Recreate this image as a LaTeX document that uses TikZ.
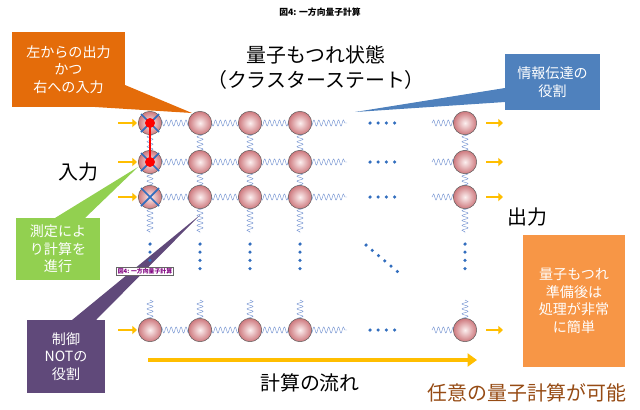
\documentclass[tikz,border=0pt]{standalone}
\usepackage{fontspec}
\setmainfont{Noto Sans CJK JP}
\usetikzlibrary{decorations.pathmorphing,arrows.meta,calc}
\definecolor{springblue}{RGB}{120,150,210}
\definecolor{dotblue}{RGB}{50,110,190}
\definecolor{arrowor}{RGB}{255,190,0}
\definecolor{callor}{RGB}{228,108,10}
\definecolor{callblue}{RGB}{79,129,189}
\definecolor{callgreen}{RGB}{146,208,80}
\definecolor{callpurple}{RGB}{96,73,122}
\definecolor{boxor}{RGB}{247,150,70}
\definecolor{brownt}{RGB}{150,75,20}
\definecolor{ballin}{RGB}{252,240,240}
\definecolor{ballout}{RGB}{205,120,125}
\tikzset{
  ball/.style={circle,minimum size=20,inner sep=0,draw=black!65,inner color=ballin,outer color=ballout},
  spring/.style={springblue,thin,decorate,decoration={snake,segment length=4.2,amplitude=2.6}},
  inarrow/.style={arrowor,line width=2.5pt,-{Triangle[length=4pt,width=7pt]}},
  dots/.style={dotblue,line width=3pt,line cap=round,dash pattern=on 0pt off 7pt},
  calltext/.style={white,align=center,font=\fontsize{12}{15}\selectfont},
  big/.style={font=\fontsize{17}{21}\selectfont}
}
\begin{document}
\begin{tikzpicture}[x=0.03cm,y=-0.03cm]
\useasboundingbox (0,0) rectangle (640,409);
\node[font=\bfseries\fontsize{7.5}{9}\selectfont] (title) at (320,12) {図4: 一方向量子計算};
% callouts
\fill[callor] (12,32) rectangle (125,107);
\fill[callor] (95,107) -- (125,85) -- (192,113) -- cycle;
\node[calltext] (cor) at (68.5,69.5) {左からの出力\\かつ\\右への入力};
\fill[callblue] (505,54) rectangle (600,110);
\fill[callblue] (355,112) -- (505,88) -- (505,102) -- cycle;
\node[calltext] (cbl) at (552.5,82) {情報伝達の\\役割};
\fill[callgreen] (16,218) rectangle (100,280);
\fill[callgreen] (55,218) -- (85,218) -- (138,167) -- cycle;
\node[calltext] (cgr) at (58,249) {測定によ\\り計算を\\進行};
\fill[callpurple] (27,320) rectangle (105,393);
\fill[callpurple] (72,320) -- (96,320) -- (200,215) -- cycle;
\node[calltext] (cpu) at (66,356.5) {制御\\NOTの\\役割};
\fill[boxor] (523,235) rectangle (625,367);
\node[calltext] (cbox) at (574,301) {量子もつれ\\準備後は\\処理が非常\\に簡単};
% grid
\foreach \y [count=\r] in {123,162,197,330}{
  \foreach \x [count=\c] in {150,200,250,300,465}
    \coordinate (p\r\c) at (\x,\y);
  \coordinate (h\r a) at (347,\y);
  \coordinate (h\r b) at (432,\y);
  \draw[spring] (p\r1) -- (p\r2) -- (p\r3) -- (p\r4) -- (h\r a);
  \draw[spring] (h\r b) -- (p\r5);
  \draw[dots] (370,\y) -- (400,\y);
  \draw[inarrow] (118,\y) -- (137,\y);
  \draw[inarrow] (486,\y) -- (503,\y);
}
\foreach \c in {1,...,5}{
  \coordinate (v\c a) at ($(p3\c)+(0,36)$);
  \coordinate (v\c b) at ($(p4\c)+(0,-30)$);
  \draw[spring] (p1\c) -- (p2\c) -- (p3\c) -- (v\c a);
  \draw[spring] (v\c b) -- (p4\c);
  \draw[dots] (p3\c |- 0,244) -- (p3\c |- 0,272);
}
\draw[dots] (366,245) -- (398,272);
\foreach \r in {1,...,4}
  \foreach \c in {1,...,5}
    \node[ball] (b\r\c) at (p\r\c) {};
% measured qubits
\foreach \r in {1,2,3}{
  \draw[dotblue,line width=1.5pt] ($(b\r1)+(-9,-9)$) -- ($(b\r1)+(9,9)$);
  \draw[dotblue,line width=1.5pt] ($(b\r1)+(-9,9)$) -- ($(b\r1)+(9,-9)$);
}
\draw[red,line width=2.5pt] (b11.center) -- (b21.center);
\fill[red] (b11) circle (5);
\fill[red] (b21) circle (5);
% flow
\draw[arrowor,line width=3.5pt,-{Triangle[length=8pt,width=11pt]}] (148,360) -- (477,360);
\node[big] (flow) at (310,383) {計算の流れ};
\node[big] (ent) at (316,55) {量子もつれ状態};
\node[big] (clu) at (316,80) {（クラスターステート）};
\node[big] (in) at (78,172) {入力};
\node[big] (out) at (527,217) {出力};
\node[brownt,font=\fontsize{17}{21}\selectfont] (any) at (527,393) {任意の量子計算が可能};
\node[draw=black!60,fill=white,text=violet,inner sep=1pt,font=\bfseries\fontsize{5}{6}\selectfont] (tag) at (145,271) {図4: 一方向量子計算};
\end{tikzpicture}
\end{document}
